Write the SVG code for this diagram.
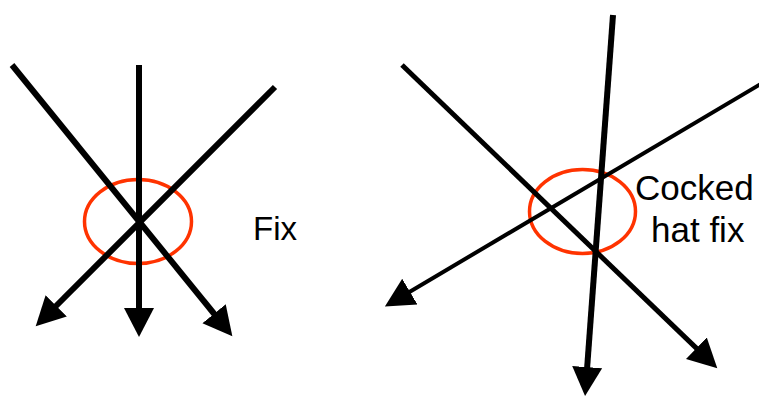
<svg xmlns="http://www.w3.org/2000/svg" width="759" height="396" viewBox="0 0 759 396">
  <style>
    .ln { stroke: #000; fill: none; stroke-linecap: butt; marker-end: url(#ah); }
    .ring { fill: none; stroke: #ff3300; stroke-width: 3.5; }
    .lbl { font-family: "Liberation Sans", Arial, sans-serif; font-size: 35px; fill: #000; }
  </style>
  <defs>
    <marker id="ah" markerUnits="userSpaceOnUse" markerWidth="32" markerHeight="32" viewBox="0 -16 32 32" refX="1" refY="0" orient="auto">
      <path d="M0,-15 L29,0 L0,15 Z" fill="#000"/>
    </marker>
  </defs>
  <rect width="759" height="396" fill="#fff"/>

  <g id="fix-ring">
    <ellipse class="ring" cx="138" cy="221.5" rx="53.5" ry="42"/>
  </g>
  <g id="fix-label">
    <text class="lbl" x="253" y="240" style="font-size:33px">Fix</text>
  </g>

  <g id="cocked-ring">
    <ellipse class="ring" cx="582.5" cy="211.5" rx="53" ry="42"/>
  </g>
  <g id="cocked-label">
    <text class="lbl" x="635" y="200">Cocked</text>
    <text class="lbl" x="651" y="242">hat fix</text>
  </g>

  <g id="connectors">
    <line class="ln" stroke-width="6" x1="12" y1="65" x2="214.7" y2="314.5"/>
    <line class="ln" stroke-width="6" x1="139" y1="65" x2="139" y2="309"/>
    <line class="ln" stroke-width="6" x1="275" y1="87" x2="55.5" y2="306.5"/>

    <line class="ln" stroke-width="5" x1="402" y1="65" x2="697.1" y2="348.9"/>
    <line class="ln" stroke-width="6" x1="613" y1="15" x2="587.1" y2="368.1"/>
    <line class="ln" stroke-width="4" x1="765" y1="81.4" x2="409" y2="292.2"/>
  </g>
</svg>
